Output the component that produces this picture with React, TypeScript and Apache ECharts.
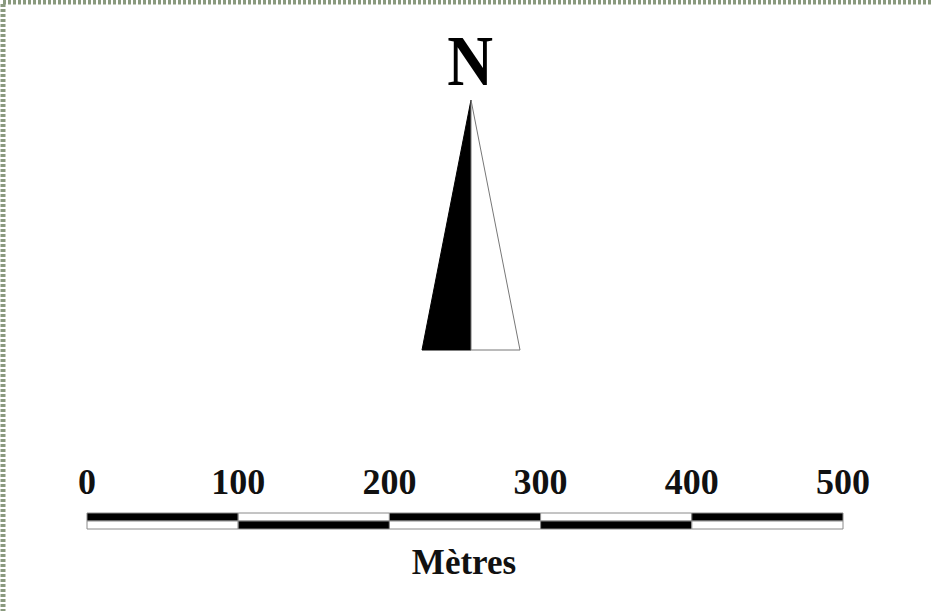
import React, { useEffect, useRef } from 'react';
import * as echarts from 'echarts';

const scaleTicks = [0, 100, 200, 300, 400, 500];
const segments = [
  [0, 100],
  [100, 200],
  [200, 300],
  [300, 400],
  [400, 500],
];
const unitLabel = 'Mètres';
const northLabel = 'N';

export default function App() {
  const ref = useRef<HTMLDivElement>(null);
  useEffect(() => {
    document.body.style.margin = '0';
    const chart = echarts.init(ref.current!, null, { renderer: 'svg' });
    const font = "'Liberation Serif', 'Times New Roman', serif";
    chart.setOption({
      animation: false,
      backgroundColor: '#ffffff',
      grid: { left: 87, right: 89, top: 513, height: 16 },
      xAxis: {
        type: 'value',
        min: scaleTicks[0],
        max: scaleTicks[scaleTicks.length - 1],
        interval: 100,
        position: 'top',
        axisLine: { show: false },
        axisTick: { show: false },
        splitLine: { show: false },
        axisLabel: {
          fontFamily: font,
          fontWeight: 'bold',
          fontSize: 36,
          color: '#111',
          margin: 13,
        },
      },
      yAxis: { type: 'value', min: 0, max: 2, show: false },
      series: [
        {
          type: 'custom',
          data: segments.map((s, i) => [s[0], s[1], i]),
          encode: { x: [0, 1] },
          renderItem: (params: any, api: any) => {
            const x0 = api.value(0);
            const x1 = api.value(1);
            const i = api.value(2);
            const a = api.coord([x0, 2]);
            const b = api.coord([x1, 1]);
            const c = api.coord([x1, 0]);
            const topBlack = i % 2 === 0;
            return {
              type: 'group',
              children: [
                {
                  type: 'rect',
                  shape: { x: a[0], y: a[1], width: b[0] - a[0], height: b[1] - a[1] },
                  style: { fill: topBlack ? '#000' : '#fff', stroke: '#8a8a8a', lineWidth: 1 },
                },
                {
                  type: 'rect',
                  shape: { x: a[0], y: b[1], width: b[0] - a[0], height: c[1] - b[1] },
                  style: { fill: topBlack ? '#fff' : '#000', stroke: '#8a8a8a', lineWidth: 1 },
                },
              ],
            };
          },
        },
      ],
      graphic: [
        {
          type: 'rect',
          shape: { x: 3, y: 2, width: 1200, height: 1200 },
          style: { fill: 'none', stroke: '#8a9a7e', lineWidth: 5, lineDash: [3, 2] },
          silent: true,
        },
        {
          type: 'text',
          x: 470,
          y: 61,
          scaleX: 0.88,
          style: {
            text: northLabel,
            fontFamily: font,
            fontWeight: 'bold',
            fontSize: 72,
            fill: '#000',
            align: 'center',
            verticalAlign: 'middle',
          },
        },
        {
          type: 'polygon',
          shape: { points: [[471, 100], [422, 350], [471, 350]] },
          style: { fill: '#000', stroke: '#000', lineWidth: 1 },
        },
        {
          type: 'polygon',
          shape: { points: [[471, 100], [520, 350], [471, 350]] },
          style: { fill: '#fff', stroke: '#777', lineWidth: 1 },
        },
        {
          type: 'text',
          x: 464,
          y: 562,
          style: {
            text: unitLabel,
            fontFamily: font,
            fontWeight: 'bold',
            fontSize: 35,
            fill: '#111',
            align: 'center',
            verticalAlign: 'middle',
          },
        },
      ],
    });
    return () => chart.dispose();
  }, []);
  return <div ref={ref} style={{ width: 932, height: 611 }} />;
}
